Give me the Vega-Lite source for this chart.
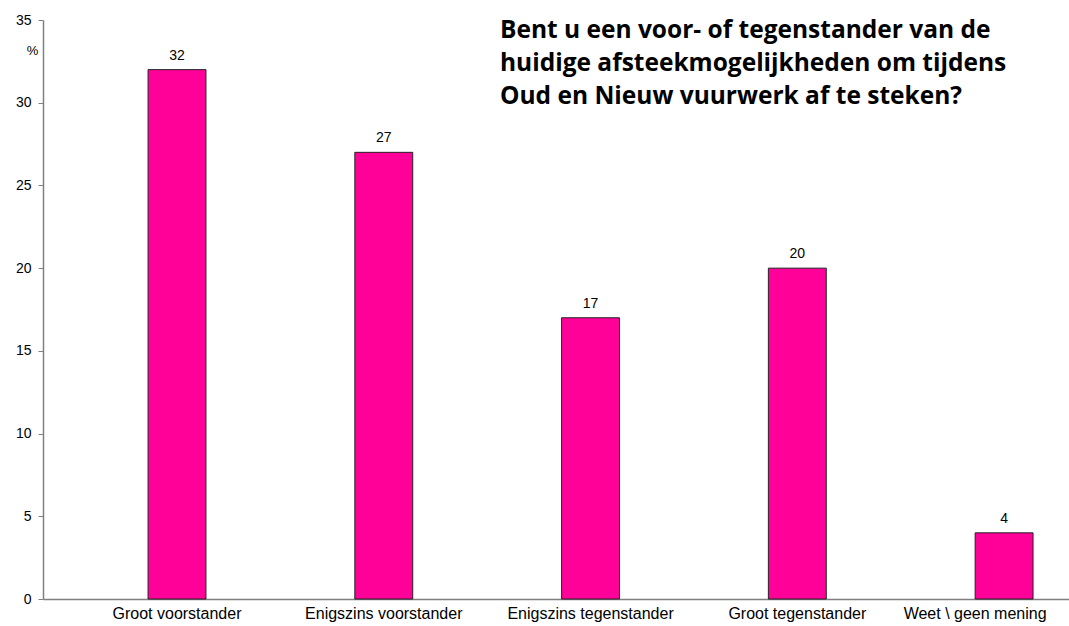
{
  "$schema": "https://vega.github.io/schema/vega-lite/v6.json",
  "width": 1026,
  "height": 579,
  "autosize": "none",
  "padding": {"left": 43, "top": 20, "right": 0, "bottom": 27},
  "background": "white",
  "config": {"view": {"stroke": null}},
  "title": {
    "text": ["Bent u een voor- of tegenstander van de", "huidige afsteekmogelijkheden om tijdens", "Oud en Nieuw vuurwerk af te steken?"],
    "anchor": "start",
    "frame": "group",
    "orient": "top",
    "baseline": "top",
    "offset": 0,
    "dx": 457,
    "dy": 96,
    "font": "Open Sans",
    "fontSize": 24.5,
    "fontWeight": "bold",
    "lineHeight": 33,
    "color": "black"
  },
  "data": {
    "values": [
      {"cat": "Groot voorstander", "pct": 32},
      {"cat": "Enigszins voorstander", "pct": 27},
      {"cat": "Enigszins tegenstander", "pct": 17},
      {"cat": "Groot tegenstander", "pct": 20},
      {"cat": "Weet \\ geen mening", "pct": 4}
    ]
  },
  "encoding": {
    "x": {
      "field": "cat",
      "type": "nominal",
      "sort": null,
      "scale": {"paddingInner": 0.72, "paddingOuter": 0.341, "align": 0.745},
      "axis": {
        "title": null,
        "labelAngle": 0,
        "labelFont": "Liberation Sans",
        "labelFontSize": 16,
        "labelColor": "black",
        "labelPadding": 6,
        "labelOffset": {"expr": "indexof(datum.label, 'Weet') == 0 ? -29 : 0"},
        "ticks": false,
        "domainColor": "#808080",
        "domainWidth": 1.5
      }
    },
    "y": {
      "field": "pct",
      "type": "quantitative",
      "scale": {"domain": [0, 35], "nice": false},
      "axis": {
        "values": [0, 5, 10, 15, 20, 25, 30, 35],
        "grid": false,
        "title": "%",
        "titleAngle": 0,
        "titleX": -11,
        "titleY": 30,
        "titleAlign": "center",
        "titleBaseline": "middle",
        "titleFont": "Liberation Sans",
        "titleFontSize": 13,
        "titleFontWeight": "normal",
        "titleColor": "black",
        "labelFont": "Liberation Sans",
        "labelFontSize": 14,
        "labelColor": "black",
        "labelPadding": 7,
        "tickSize": 5,
        "tickColor": "#808080",
        "domainColor": "#808080",
        "domainWidth": 1.5
      }
    }
  },
  "layer": [
    {
      "mark": {"type": "bar", "color": "#FF0099", "stroke": "#222222", "strokeWidth": 1}
    },
    {
      "mark": {"type": "text", "baseline": "bottom", "dy": -7, "font": "Liberation Sans", "fontSize": 14, "color": "black"},
      "encoding": {"text": {"field": "pct", "type": "quantitative"}}
    }
  ]
}
